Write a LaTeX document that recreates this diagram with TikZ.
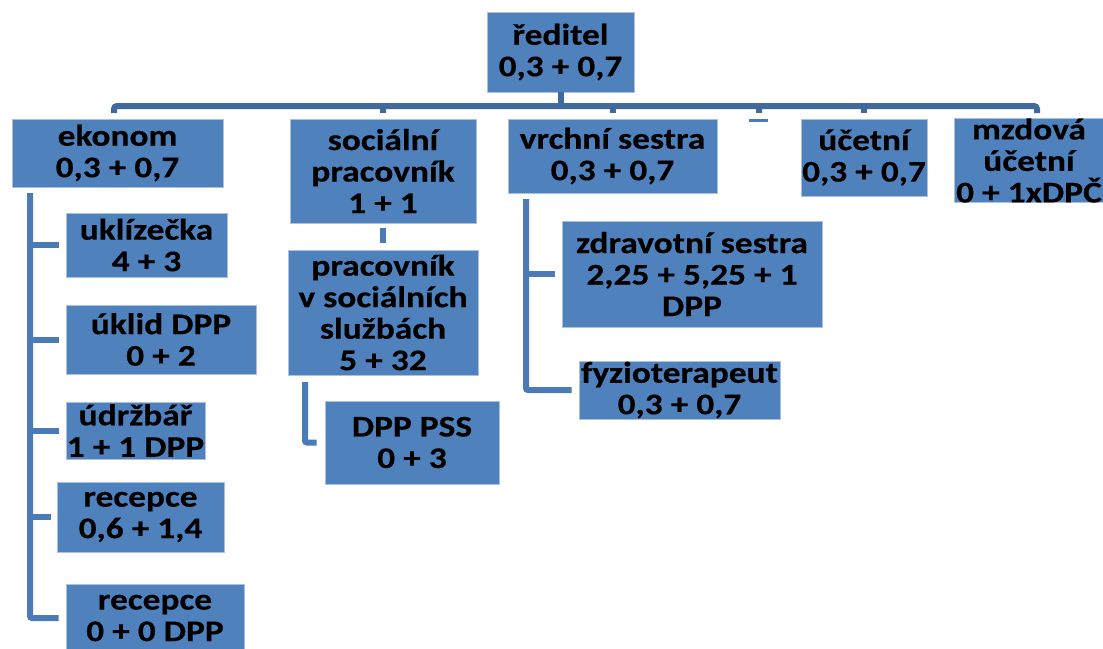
\documentclass[tikz,border=0pt]{standalone}
\usepackage{fontspec}
\newfontfamily\boxfont{Carlito}[FakeStretch=1.18, FakeBold=0.4]
\definecolor{boxblue}{HTML}{4F81BD}
\definecolor{boxedge}{HTML}{A9C0DE}
\definecolor{busblue}{HTML}{41699C}
\definecolor{lineblue}{HTML}{4B7BB6}
\begin{document}
\begin{tikzpicture}[x=1pt,y=-1pt,
  box/.style={fill=boxblue, draw=boxedge, line width=0.7pt, inner sep=0pt, align=center,
    font=\boxfont\bfseries\fontsize{30}{31.5}\selectfont, text=black},
  bus/.style={draw=busblue, line width=6pt},
  branch/.style={draw=lineblue, line width=6pt}]
\useasboundingbox (0,0) rectangle (1103,648);
\fill[white] (0,0) rectangle (1103,648);
\clip (0,0) rectangle (1103,648);

% boxes
\node[box, minimum width=147pt, minimum height=80pt] (reditel) at (560.5,52) {ředitel\\0,3 + 0,7};
\node[box, minimum width=211pt, minimum height=68pt] (ekonom) at (117.5,153) {ekonom\\0,3 + 0,7};
\node[box, minimum width=186pt, minimum height=104pt] (socialni) at (383,171) {sociální\\pracovník\\1 + 1};
\node[box, minimum width=209pt, minimum height=74pt] (vrchni) at (612.5,156) {vrchní sestra\\0,3 + 0,7};
\node[box, minimum width=126pt, minimum height=77pt] (ucetni) at (864,157.5) {účetní\\0,3 + 0,7};
\node[box, minimum width=150pt, minimum height=83pt] (mzdova) at (1029,160.5) {mzdová\\účetní\\0 + 1xDPČ};

\node[box, minimum width=161pt, minimum height=64pt] (uklizecka) at (146.5,245) {uklízečka\\4 + 3};
\node[box, minimum width=190pt, minimum height=69pt] (uklid) at (161,339.5) {úklid DPP\\0 + 2};
\node[box, minimum width=139pt, minimum height=57pt] (udrzbar) at (135.5,430.5) {údržbář\\1 + 1 DPP};
\node[box, minimum width=167pt, minimum height=70pt] (recepceA) at (140.5,517) {recepce\\0,6 + 1,4};
\node[box, minimum width=178pt, minimum height=68pt] (recepceB) at (155,618) {recepce\\0 + 0 DPP};

\node[box, minimum width=190pt, minimum height=125pt] (pss) at (383,312.5) {pracovník\\v sociálních\\službách\\5 + 32};
\node[box, minimum width=174pt, minimum height=83pt] (dpppss) at (412,442.5) {DPP PSS\\0 + 3};

\node[box, minimum width=260pt, minimum height=106pt] (zdravotni) at (692,274) {zdravotní sestra\\2,25 + 5,25 + 1\\DPP};
\node[box, minimum width=201pt, minimum height=58pt] (fyzio) at (679.5,390) {fyzioterapeut\\0,3 + 0,7};

% bus from the director
\coordinate (busy) at (0,106);
\coordinate (busL) at (114,113);
\coordinate (busR) at (1037,113);
\coordinate (midtick) at (759,106);
\coordinate (dashL) at (749,120.5);
\coordinate (dashR) at (768,120.5);
\draw[bus] (reditel.south) -- (reditel.south |- busy);
\draw[bus, rounded corners=3pt] (busL) -- (busL |- busy) -- (busR |- busy) -- (busR);
\draw[bus] (socialni.north |- busy) -- ++(0,7);
\draw[bus] (vrchni.north |- busy) -- ++(0,7);
\draw[bus] (ucetni.north |- busy) -- ++(0,7);
\draw[bus] (midtick) -- ++(0,7);
\draw[lineblue, line width=3pt] (dashL) -- (dashR);

% ekonom branch
\coordinate (e0) at (30,193);
\draw[branch, rounded corners=2pt] (e0) -- (e0 |- recepceB.west) -- ([xshift=-7pt]recepceB.west);
\draw[branch] (e0 |- uklizecka.west) -- ([xshift=-7pt]uklizecka.west);
\draw[branch] (e0 |- uklid.west) -- ([xshift=-7pt]uklid.west);
\draw[branch] (e0 |- udrzbar.west) -- ([xshift=-7pt]udrzbar.west);
\draw[branch] (e0 |- recepceA.west) -- ([xshift=-6pt]recepceA.west);

% social branch
\draw[branch] ([yshift=-5pt]socialni.south) -- ([yshift=7pt]pss.north);
\coordinate (p0) at (305,382);
\draw[branch, rounded corners=2pt] (p0) -- (p0 |- dpppss.west) -- ([xshift=-8pt]dpppss.west);

% nurse branch
\coordinate (v0) at (526,199);
\draw[branch, rounded corners=2pt] (v0) -- (v0 |- fyzio.west) -- ([xshift=-7pt]fyzio.west);
\draw[branch] (v0 |- zdravotni.west) -- ([xshift=-7pt]zdravotni.west);
\end{tikzpicture}
\end{document}
